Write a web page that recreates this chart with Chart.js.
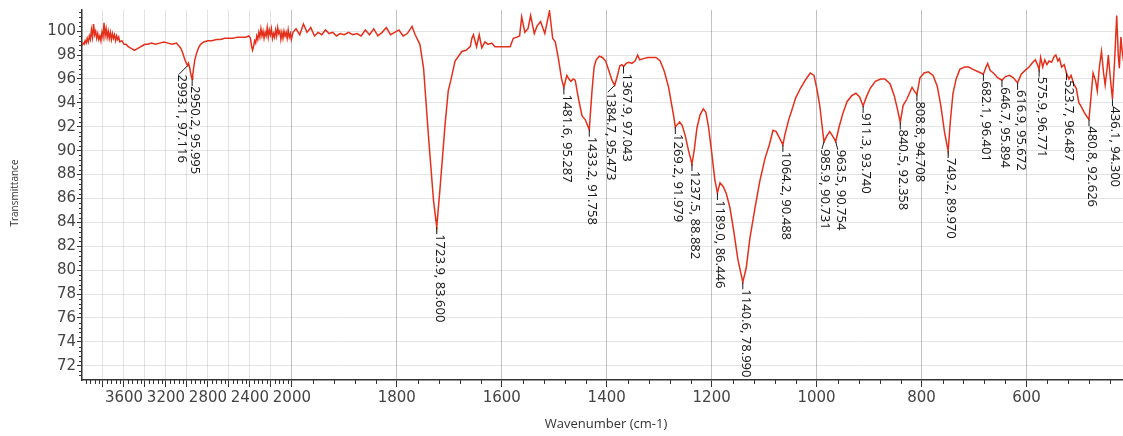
<!DOCTYPE html>
<html>
<head>
<meta charset="utf-8">
<title>IR spectrum</title>
<script src="https://cdn.jsdelivr.net/npm/chart.js@4.4.0/dist/chart.umd.min.js"></script>
<style>
  html, body { margin: 0; padding: 0; background: #fff; }
  #wrap { width: 1123px; height: 436px; }
</style>
</head>
<body>
<div id="wrap"><canvas id="irChart" width="1123" height="436"></canvas></div>
<script>
// Spectrum (wavenumber in cm-1, transmittance in %)
const wavenumber = [
  4000, 3990, 3980, 3970, 3960, 3950, 3940, 3930, 3920, 3910,
  3900, 3890, 3880, 3870, 3860, 3850, 3840, 3830, 3820, 3810,
  3800, 3790, 3780, 3770, 3760, 3750, 3740, 3730, 3720, 3710,
  3700, 3690, 3680, 3670, 3660, 3650, 3640, 3620, 3600, 3580,
  3560, 3540, 3520, 3500, 3480, 3460, 3440, 3420, 3400, 3370,
  3340, 3300, 3260, 3220, 3180, 3140, 3100, 3080, 3060, 3045,
  3030, 3015, 3005, 2993.1, 2985, 2975, 2965, 2955, 2950.2, 2945,
  2935, 2925, 2910, 2890, 2870, 2840, 2800, 2760, 2720, 2680,
  2640, 2600, 2560, 2520, 2480, 2440, 2410, 2395, 2385, 2375,
  2365, 2355, 2345, 2335, 2325, 2315, 2305, 2295, 2285, 2275,
  2265, 2255, 2245, 2235, 2225, 2215, 2205, 2195, 2185, 2175,
  2165, 2155, 2145, 2135, 2125, 2115, 2105, 2095, 2085, 2075,
  2065, 2055, 2045, 2035, 2025, 2015, 2005, 1998, 1992, 1985,
  1978, 1971, 1964, 1957, 1950, 1943, 1936, 1929, 1922, 1915,
  1908, 1900, 1892, 1884, 1876, 1868, 1860, 1852, 1844, 1836,
  1828, 1820, 1812, 1804, 1796, 1788, 1780, 1771, 1765, 1756,
  1749, 1740, 1730, 1723.9, 1717, 1708, 1702, 1697, 1689, 1676,
  1668, 1660, 1657, 1654, 1648, 1643, 1638, 1632, 1626, 1619,
  1613, 1600, 1584, 1578, 1571, 1566, 1562, 1556, 1550, 1545,
  1538, 1533, 1526, 1518, 1509, 1503, 1498, 1492, 1486, 1481.6,
  1476, 1472, 1468, 1464, 1460, 1454, 1447, 1441, 1433.2, 1428,
  1424, 1420, 1414, 1408, 1402, 1396, 1390, 1384.7, 1380, 1375,
  1371, 1367.9, 1363, 1358, 1352, 1346, 1341, 1337, 1330, 1322,
  1314, 1306, 1298, 1290, 1282, 1276, 1272, 1269.2, 1265, 1261,
  1256, 1250, 1244, 1237.5, 1233, 1228, 1222, 1216, 1211, 1206,
  1200, 1194, 1189.0, 1184, 1178, 1172, 1165, 1158, 1150, 1140.6,
  1134, 1127, 1117, 1108, 1098, 1090, 1083, 1077, 1070, 1064.2,
  1060, 1053, 1047, 1040, 1031, 1020, 1012, 1005, 1000, 994,
  988, 985.9, 981, 975, 969, 963.5, 957, 950, 942, 933,
  925, 918, 911.3, 905, 898, 888, 878, 870, 860, 852,
  846, 840.5, 835, 828, 823, 818, 814, 808.8, 803, 795,
  787, 778, 770, 763, 756, 749.2, 745, 740, 734, 727,
  718, 710, 702, 692, 682.1, 677, 674, 669, 663, 655,
  646.7, 640, 632, 625, 616.9, 610, 603, 595, 588, 583,
  579, 575.9, 573, 569, 565, 561, 557, 552, 547, 544,
  540, 537, 533, 528, 523.7, 519, 515, 510, 505, 500,
  497, 490, 484, 480.8, 477, 473, 468, 465, 461, 457,
  453, 450, 446, 444, 440, 436.1, 432, 428, 425, 423,
  420, 418, 415
];
const transmittance = [
  98.8, 99.0, 98.9, 99.2, 99.0, 99.4, 99.1, 99.6, 99.3, 100.1,
  99.5, 100.6, 99.7, 100.0, 99.4, 99.8, 99.3, 99.6, 99.2, 99.9,
  99.5, 100.7, 99.6, 100.2, 99.5, 100.0, 99.4, 99.9, 99.3, 99.8,
  99.4, 99.7, 99.2, 99.6, 99.3, 99.5, 99.1, 99.2, 98.9, 98.9,
  98.7, 98.6, 98.5, 98.4, 98.5, 98.6, 98.7, 98.8, 98.9, 98.9,
  99.0, 98.9, 99.0, 99.1, 99.0, 98.9, 99.0, 98.8, 98.6, 98.3,
  97.9, 97.5, 97.3, 97.116, 97.3, 97.0, 96.5, 96.1, 95.995, 96.3,
  97.0, 97.6, 98.1, 98.6, 98.9, 99.1, 99.2, 99.2, 99.3, 99.3,
  99.4, 99.4, 99.4, 99.5, 99.5, 99.5, 99.6, 99.4, 98.8, 98.4,
  98.7, 99.2, 99.0, 99.6, 99.3, 99.9, 99.5, 100.2, 99.6, 100.0,
  99.4, 99.9, 99.6, 100.3, 99.5, 100.1, 99.7, 100.2, 99.4, 99.8,
  99.5, 100.1, 99.6, 100.3, 99.8, 100.0, 99.3, 99.9, 99.4, 100.0,
  99.6, 99.9, 99.4, 100.1, 99.5, 99.8, 99.3, 99.9, 100.2, 99.7,
  100.6, 99.9, 100.3, 99.6, 99.9, 99.7, 100.1, 99.8, 99.9, 99.6,
  99.8, 99.7, 99.9, 99.7, 99.8, 99.6, 100.1, 99.7, 100.2, 99.6,
  99.9, 100.3, 99.7, 99.9, 100.1, 99.6, 99.8, 100.4, 99.7, 98.9,
  96.9, 91.4, 85.8, 83.6, 87.2, 92.2, 95.0, 95.9, 97.5, 98.3,
  98.4, 98.7, 99.4, 99.7, 98.7, 99.7, 98.6, 99.1, 98.9, 99.0,
  98.7, 98.7, 98.7, 99.4, 99.5, 99.6, 101.2, 99.9, 100.2, 101.3,
  99.8, 100.4, 100.8, 99.8, 101.7, 99.4, 99.1, 97.7, 96.0, 95.287,
  96.3, 96.0, 95.8, 96.0, 95.9, 94.4, 92.9, 92.6, 91.758, 95.0,
  97.0, 97.6, 97.9, 97.8, 97.5, 96.7, 95.9, 95.473, 96.2, 97.1,
  97.2, 97.043, 97.3, 97.4, 97.3, 97.5, 98.0, 97.6, 97.7, 97.8,
  97.8, 97.8, 97.5, 96.6, 95.3, 93.8, 92.8, 91.979, 92.2, 92.4,
  92.1, 91.2, 90.0, 88.882, 90.1, 91.9, 93.0, 93.5, 93.2, 92.0,
  89.9, 87.6, 86.446, 87.3, 87.0, 86.4, 85.2, 83.3, 80.9, 78.99,
  80.2, 82.7, 85.3, 87.5, 89.4, 90.5, 91.7, 91.6, 91.0, 90.488,
  91.4, 92.6, 93.4, 94.4, 95.2, 96.0, 96.5, 96.3, 95.3, 93.8,
  91.5, 90.731, 91.2, 91.6, 91.2, 90.754, 92.0, 93.1, 94.1, 94.6,
  94.8, 94.5, 93.74, 94.5, 95.2, 95.8, 96.0, 96.0, 95.6, 94.6,
  93.5, 92.358, 93.8, 94.3, 94.8, 95.3, 95.0, 94.708, 96.1, 96.5,
  96.6, 96.3, 95.4, 93.7, 91.5, 89.97, 92.5, 94.8, 96.0, 96.8,
  97.0, 97.0, 96.8, 96.6, 96.401, 97.0, 97.3, 96.7, 96.5, 96.1,
  95.894, 96.2, 96.3, 96.1, 95.672, 96.4, 96.7, 97.0, 97.4, 97.6,
  97.2, 96.771, 97.8, 97.0, 97.6, 97.2, 97.5, 97.4, 97.9, 98.0,
  97.5, 97.7, 97.0, 97.2, 96.487, 96.0, 96.3, 95.6, 95.2, 94.0,
  93.8, 93.2, 92.8, 92.626, 94.5, 96.5, 95.8, 95.0, 97.0, 98.3,
  96.5, 95.5, 97.0, 98.0, 96.0, 94.3, 97.5, 101.3, 98.0, 96.9,
  99.5, 98.5, 97.5
];

// Picked peaks
const peakWn = [2993.1, 2950.2, 1723.9, 1481.6, 1433.2, 1384.7, 1367.9, 1269.2, 1237.5,
  1189.0, 1140.6, 1064.2, 985.9, 963.5, 911.3, 840.5, 808.8, 749.2, 682.1, 646.7, 616.9,
  575.9, 523.7, 480.8, 436.1];
const peakT = [97.116, 95.995, 83.600, 95.287, 91.758, 95.473, 97.043, 91.979, 88.882,
  86.446, 78.990, 90.488, 90.731, 90.754, 93.740, 92.358, 94.708, 89.970, 96.401, 95.894, 95.672,
  96.771, 96.487, 92.626, 94.300];

// Axis ticks
const xTickLabels = [3600, 3200, 2800, 2400, 2000, 1800, 1600, 1400, 1200, 1000, 800, 600];
const xGridWn = [3800, 3600, 3400, 3200, 3000, 2800, 2600, 2400, 2200, 2000,
  1800, 1600, 1400, 1200, 1000, 800, 600];
const yTickValues = [72, 74, 76, 78, 80, 82, 84, 86, 88, 90, 92, 94, 96, 98, 100];

// The axis is compressed 5x above 2000 cm-1
const BREAK = 2000;
const HIGH_RATIO = 0.2;
function toAxis(wn) {
  return wn <= BREAK ? BREAK - wn : -(wn - BREAK) * HIGH_RATIO;
}
function fromAxis(u) {
  return u >= 0 ? BREAK - u : BREAK - u / HIGH_RATIO;
}

// nudges for labels that would sit on top of a neighbour
const labelShift = { 2993.1: [-9, 2], 1384.7: [-7, 0], 985.9: [-2, 0], 963.5: [2, 1] };

const points = wavenumber.map((wn, i) => ({ x: toAxis(wn), y: transmittance[i] }));

// minor tick marks on both axes
const minorTicks = {
  id: 'minorTicks',
  afterDraw(chart) {
    const { ctx, chartArea, scales: { x, y } } = chart;
    ctx.save();
    ctx.strokeStyle = '#333';
    ctx.lineWidth = 1;
    ctx.beginPath();
    for (let wn = 3960; wn >= 420; wn -= 40) {
      if (wn % 200 === 0) continue;
      const px = Math.round(x.getPixelForValue(toAxis(wn))) + 0.5;
      ctx.moveTo(px, chartArea.bottom);
      ctx.lineTo(px, chartArea.bottom + 4);
    }
    for (let v = 71.2; v < 101.8; v += 0.4) {
      if (Math.abs(v / 2 - Math.round(v / 2)) < 0.01) continue;
      const py = Math.round(y.getPixelForValue(v)) + 0.5;
      ctx.moveTo(chartArea.left - 3, py);
      ctx.lineTo(chartArea.left, py);
    }
    ctx.stroke();
    ctx.restore();
  }
};

// vertical "wavenumber, %T" labels hanging under each picked peak
const peakLabels = {
  id: 'peakLabels',
  afterDatasetsDraw(chart) {
    const { ctx, scales: { x, y } } = chart;
    ctx.save();
    ctx.font = '13px "Noto Sans"';
    ctx.fillStyle = '#1a1a1a';
    ctx.strokeStyle = '#1a1a1a';
    ctx.lineWidth = 1;
    peakWn.forEach((wn, i) => {
      const px = x.getPixelForValue(toAxis(wn));
      const py = y.getPixelForValue(peakT[i]);
      const [dx, dy] = labelShift[wn] || [0, 0];
      const tx = px + dx;
      const ty = py + 7 + dy;
      ctx.beginPath();
      ctx.moveTo(px, py);
      ctx.lineTo(tx, ty);
      ctx.stroke();
      ctx.save();
      ctx.translate(tx, ty);
      ctx.rotate(Math.PI / 2);
      ctx.textBaseline = 'alphabetic';
      ctx.textAlign = 'left';
      ctx.fillText(wn.toFixed(1) + ', ' + peakT[i].toFixed(3), 0, 1);
      ctx.restore();
    });
    ctx.restore();
  }
};

// axis titles
const axisTitles = {
  id: 'axisTitles',
  afterDraw(chart) {
    const { ctx } = chart;
    ctx.save();
    ctx.fillStyle = '#333';
    ctx.textAlign = 'center';
    ctx.textBaseline = 'middle';
    ctx.font = '13px "Open Sans"';
    ctx.fillText('Wavenumber (cm-1)', 606, 424);
    ctx.translate(15, 193);
    ctx.rotate(-Math.PI / 2);
    ctx.font = '10px "Open Sans"';
    ctx.fillText('Transmittance', 0, 0);
    ctx.restore();
  }
};

new Chart(document.getElementById('irChart'), {
  type: 'line',
  data: {
    datasets: [{
      label: 'Transmittance',
      data: points,
      borderColor: '#e4301b',
      borderWidth: 1.5,
      pointRadius: 0,
      tension: 0,
      fill: false
    }]
  },
  options: {
    responsive: false,
    animation: false,
    layout: { padding: { top: 8, right: 0, left: 0, bottom: 0 } },
    plugins: {
      legend: { display: false },
      tooltip: { enabled: false }
    },
    scales: {
      x: {
        type: 'linear',
        min: toAxis(4000),
        max: toAxis(416),
        afterBuildTicks: (scale) => {
          scale.ticks = xGridWn.map(wn => ({ value: toAxis(wn) }));
        },
        afterFit: (scale) => { scale.height = 56; },
        ticks: {
          autoSkip: false,
          maxRotation: 0,
          padding: 2,
          color: '#444',
          font: { family: 'DejaVu Sans', size: 15 },
          callback: (value) => {
            const wn = Math.round(fromAxis(value));
            return xTickLabels.includes(wn) ? String(wn) : '';
          }
        },
        grid: {
          color: (ctx) => (ctx.tick && ctx.tick.value >= 0 ? 'rgba(0,0,0,0.24)' : 'rgba(0,0,0,0.11)'),
          tickColor: '#333',
          tickLength: 7
        },
        border: { display: true, color: '#333', width: 1.5 }
      },
      y: {
        min: 70.81,
        max: 101.77,
        afterBuildTicks: (scale) => {
          scale.ticks = yTickValues.map(v => ({ value: v }));
        },
        afterFit: (scale) => { scale.width = 82; },
        ticks: {
          padding: 1,
          color: '#444',
          font: { family: 'DejaVu Sans', size: 15 }
        },
        grid: {
          color: 'rgba(0,0,0,0.11)',
          tickColor: '#333',
          tickLength: 5
        },
        border: { display: true, color: '#333', width: 1.5 }
      }
    }
  },
  plugins: [minorTicks, peakLabels, axisTitles]
});
</script>
</body>
</html>
